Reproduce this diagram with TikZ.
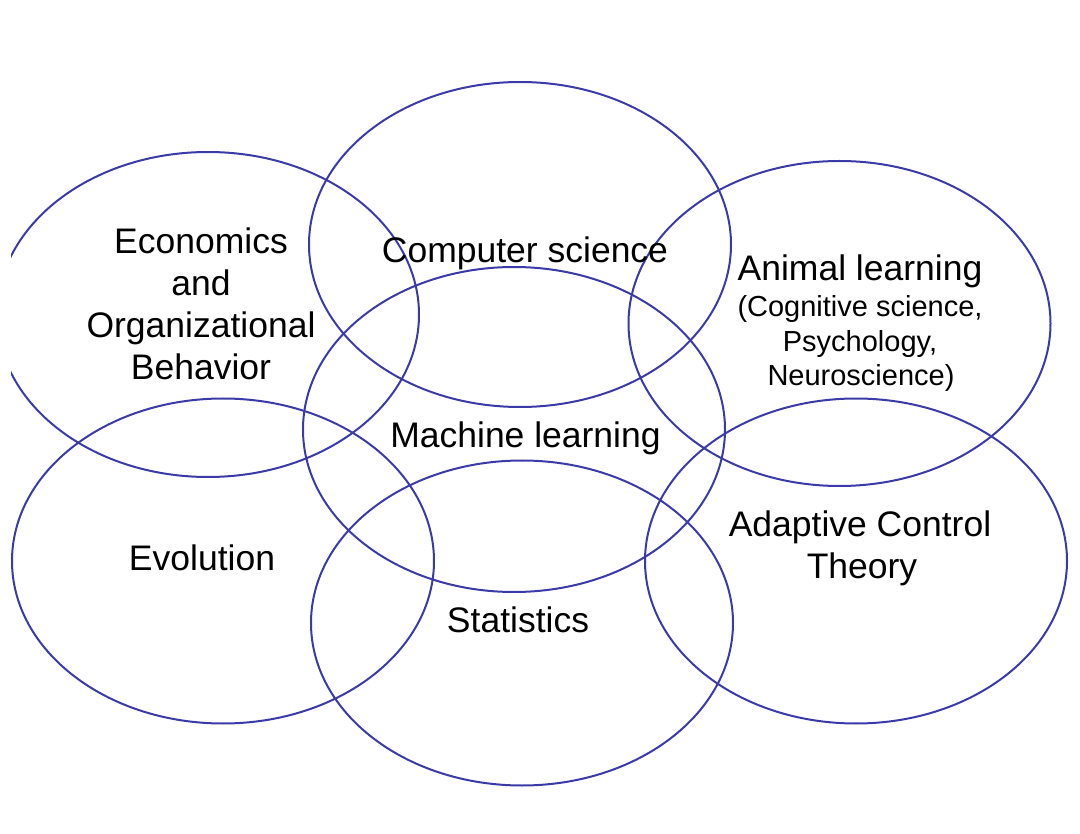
\documentclass[tikz,border=0pt]{standalone}
\usepackage{fontspec}
\setmainfont{Liberation Sans}
\usetikzlibrary{shapes.geometric}
\definecolor{ringblue}{RGB}{58,58,168}
\tikzset{
  ring/.style={ellipse, draw=ringblue, line width=2pt, minimum width=422pt, minimum height=325pt, inner sep=0pt},
  lbl/.style={anchor=base, inner sep=0pt, font=\fontsize{35.5}{42}\selectfont},
  sublbl/.style={anchor=base, inner sep=0pt, font=\fontsize{29}{35}\selectfont}
}
\begin{document}
\begin{tikzpicture}[x=1pt,y=-1pt]
\useasboundingbox (0,0) rectangle (1080,834);
\begin{scope}
\clip (11,0) rectangle (1080,834);
\node[ring] (econ) at (208,314.5) {};
\node[ring] (cs) at (520,244.5) {};
\node[ring] (animal) at (839.5,323.5) {};
\node[ring] (ml) at (514,429.5) {};
\node[ring] (evo) at (223,561) {};
\node[ring] (stat) at (522,623) {};
\node[ring] (act) at (856,561) {};
\end{scope}
% labels
\node[lbl] (econ1) at (201,254) {Economics};
\node[lbl] (econ2) at (201,296) {and};
\node[lbl] (econ3) at (201,338) {Organizational};
\node[lbl] (econ4) at (201,380) {Behavior};
\node[lbl] (cslbl) at (525,263) {Computer science};
\node[lbl] (al1) at (860,281) {Animal learning};
\node[sublbl] (al2) at (860,317) {(Cognitive science,};
\node[sublbl] (al3) at (860,352) {Psychology,};
\node[sublbl] (al4) at (861,386) {Neuroscience)};
\node[lbl] (mllbl) at (525.5,448) {Machine learning};
\node[lbl] (evolbl) at (202,570) {Evolution};
\node[lbl] (statlbl) at (518,632) {Statistics};
\node[lbl] (act1) at (860,536) {Adaptive Control};
\node[lbl] (act2) at (862,578) {Theory};
\end{tikzpicture}
\end{document}
